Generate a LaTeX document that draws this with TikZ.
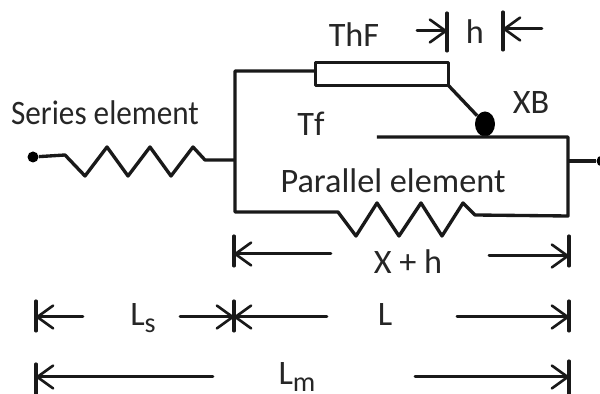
\documentclass[tikz,border=0pt]{standalone}
\usepackage{fontspec}
\setmainfont{Carlito}
\usetikzlibrary{arrows.meta,shapes.geometric}

\newcommand{\subtxt}[1]{\raisebox{-0.2em}{\fontsize{16}{18}\selectfont #1}}

\tikzset{
	wire/.style={line width=1.9pt, line join=round, color=black!90},
	dimline/.style={line width=1.7pt, line cap=round, color=black!90, -{Straight Barb[length=9pt,width=13pt,line width=1.5pt,round]}},
	dimtick/.style={line width=1.8pt, line cap=round, color=black!90},
	lbl/.style={inner sep=0pt, font=\fontsize{19.5}{22}\selectfont, color=black!85},
	dot/.style={circle, fill=black, inner sep=0pt, minimum size=0.22cm}
}

\begin{document}
\begin{tikzpicture}[x=0.02cm, y=-0.02cm]
	\useasboundingbox (0,0) rectangle (600,394);

	% circuit
	\node[dot] (LEFT) at (33,157) {};
	\node[dot] (RIGHT) at (602,161) {};
	\node[draw, wire, fill=white, inner sep=0pt, outer sep=0pt, minimum width=2.66cm, minimum height=0.46cm] (THF) at (382,74) {};
	\node[ellipse, fill=black, inner sep=0pt, minimum width=0.4cm, minimum height=0.5cm] (XB) at (485,124) {};
	\coordinate (FRAMETL) at (235,71);
	\coordinate (FRAMEBL) at (235,212);
	\coordinate (FRAMEIN) at (235,160);
	\coordinate (TFL) at (377,137);
	\coordinate (TFR) at (568,137);
	\coordinate (OUTR) at (568,161);
	\coordinate (BOTR) at (568,216);
	\coordinate (SPS) at (65,155);
	\coordinate (SPP) at (338,212);

	\draw[wire] (LEFT) -- (SPS) -- ++(20,21) -- ++(22,-29) -- ++(21,29) -- ++(22,-29)
		-- ++(21,29) -- ++(22,-29) -- ++(12,13) -- (FRAMEIN);
	\draw[wire] (THF.west |- FRAMETL) -- (FRAMETL) -- (FRAMEBL) -- (SPP) -- ++(18,24) -- ++(21,-33)
		-- ++(22,33) -- ++(22,-33) -- ++(21,33) -- ++(21,-33) -- ++(12,12) -- (BOTR) -- (TFR) -- (TFL);
	\draw[wire] (OUTR) -- (RIGHT);
	\draw[wire] (THF.south east) -- (XB);

	% dimension ends
	\coordinate (HA) at (447,31);
	\coordinate (HB) at (503,29);
	\coordinate (HAS) at (417,31);
	\coordinate (HBS) at (542,29);
	\coordinate (XA) at (234,254);
	\coordinate (XB2) at (569,256);
	\coordinate (XAS) at (331,254);
	\coordinate (XBS) at (489,256);
	\coordinate (LA) at (36,317);
	\coordinate (LB) at (234,317);
	\coordinate (LC) at (569,317);
	\coordinate (LAS) at (83,317);
	\coordinate (LBS) at (180,317);
	\coordinate (LCS) at (327,317);
	\coordinate (LDS) at (457,317);
	\coordinate (MA) at (36,377);
	\coordinate (MB) at (569,377);
	\coordinate (MAS) at (213,377);
	\coordinate (MBS) at (415,377);

	\draw[dimline] (HAS) -- (HA);
	\draw[dimline] (HBS) -- (HB);
	\draw[dimline] (XAS) -- (XA);
	\draw[dimline] (XBS) -- (XB2);
	\draw[dimline] (LAS) -- (LA);
	\draw[dimline] (LBS) -- (LB);
	\draw[dimline] (LCS) -- (LB);
	\draw[dimline] (LDS) -- (LC);
	\draw[dimline] (MAS) -- (MA);
	\draw[dimline] (MBS) -- (MB);

	\draw[dimtick] (HA) ++(0,-18) -- ++(0,38);
	\draw[dimtick] (HB) ++(0,-17) -- ++(0,38);
	\draw[dimtick] (XA) ++(0,-18) -- ++(0,30);
	\draw[dimtick] (XB2) ++(0,-20) -- ++(0,30);
	\draw[dimtick] (LA) ++(0,-16) -- ++(0,30);
	\draw[dimtick] (LB) ++(0,-16) -- ++(0,30);
	\draw[dimtick] (LC) ++(0,-16) -- ++(0,30);
	\draw[dimtick] (MA) ++(0,-13) -- ++(0,30);
	\draw[dimtick] (MB) ++(0,-16) -- ++(0,33);

	% labels
	\node[lbl] (SERIES) at (105,113) {\scalebox{0.91}[1]{Series element}};
	\node[lbl] (THFLBL) at (354,35) {ThF};
	\node[lbl] (HLBL) at (475,32) {h};
	\node[lbl] (XBLBL) at (531,103) {XB};
	\node[lbl] (TF) at (311,124) {Tf};
	\node[lbl] (PARALLEL) at (393,181) {Parallel element};
	\node[lbl] (XH) at (408,262) {X + h};
	\node[lbl, anchor=base] (LS) at (143,326) {L\subtxt{s}};
	\node[lbl, anchor=base] (LL) at (385,326) {L};
	\node[lbl, anchor=base] (LM) at (297,385) {L\subtxt{m}};
\end{tikzpicture}
\end{document}
